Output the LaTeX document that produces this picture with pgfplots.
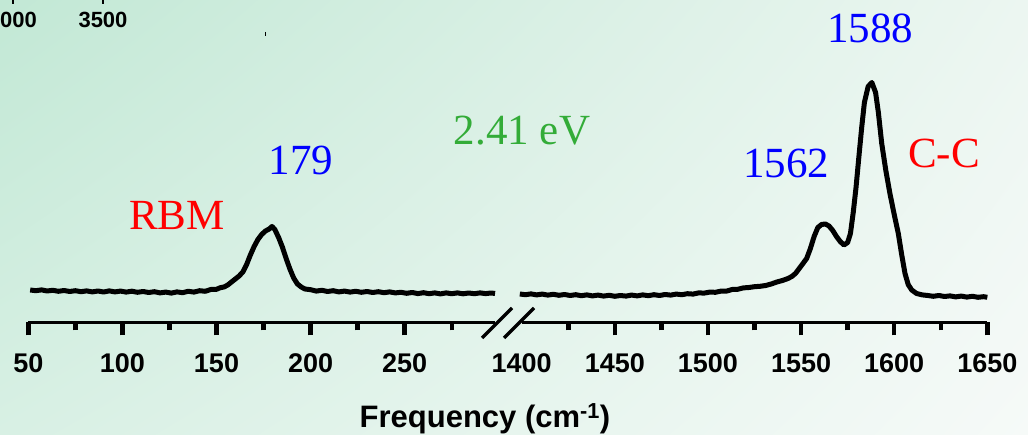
\documentclass[border=0pt]{standalone}
\usepackage{pgfplots}
\pgfplotsset{compat=1.18}
\usetikzlibrary{shadings}
\usepackage{fontspec}
\setmainfont{Liberation Serif}
\setsansfont{Liberation Sans}
\definecolor{bgUL}{RGB}{194,232,213}
\definecolor{bgUR}{RGB}{236,246,241}
\definecolor{bgLL}{RGB}{216,240,228}
\definecolor{bgLR}{RGB}{246,250,248}
\definecolor{lblue}{RGB}{0,0,255}
\definecolor{lred}{RGB}{255,0,0}
\definecolor{lgreen}{RGB}{51,172,56}
\pgfplotsset{myax/.style={
  y=1pt, ymin=0, ymax=320,
  axis x line=bottom, axis y line=none,
  x axis line style={-, line width=3.5pt},
  tick align=outside, major tick length=13pt, minor tick length=8pt,
  /pgf/number format/assume math mode=true,
  /pgf/number format/set thousands separator={},
  xticklabel style={font=\fontsize{27}{27}\selectfont\sffamily\bfseries, anchor=north, yshift=-15pt},
  anchor=south west, clip=false,
}}
\begin{document}
\begin{tikzpicture}[x=1pt,y=1pt]
\clip (0,0) rectangle (1028,435);
\shade[upper left=bgUL, upper right=bgUR, lower left=bgLL, lower right=bgLR] (0,0) rectangle (1028,435);
% stray remnants at the top
\node[anchor=base east, font=\fontsize{22}{22}\selectfont\sffamily\bfseries, inner sep=0pt] at (37,407) {4000};
\node[anchor=base, font=\fontsize{22}{22}\selectfont\sffamily\bfseries, inner sep=0pt] at (103,407) {3500};
\draw[line width=2pt] (13,435) -- (13,431);
\draw[line width=2pt] (103,435) -- (103,431);
\draw[line width=1pt] (265.7,403) -- (265.7,399);
\begin{axis}[myax, at={(28.3pt,112.5pt)}, x=1.882pt, xmin=50, xmax=298,
  xtick={50,100,150,200,250}, minor xtick={75,125,175,225,275},
  every tick/.style={black, line width=4.5pt},
  every major tick/.style={black, line width=4.5pt},
  every minor tick/.style={black, line width=4.5pt}]
\addplot[black, line width=5pt, line join=round] coordinates {
(51,32.5) (54,31.8) (57,32.6) (60,31.5) (63,32.2) (66,31.2) (69,32.0) (72,31.0) (75,31.8) (78,30.8)
(81,31.6) (84,30.6) (87,31.5) (90,30.5) (93,31.6) (96,30.6) (99,31.4) (102,30.4) (105,31.3) (108,30.2)
(111,31.0) (114,30.0) (117,30.8) (120,29.6) (123,30.4) (126,29.4) (129,30.6) (132,29.8) (135,31.2) (138,30.4)
(141,31.8) (144,31.2) (147,33.0) (150,33.2) (152,34.8) (154,35.5) (156,37.5) (158,40.5) (160,43.5) (162,46.5)
(164,50.5) (166,58) (168,67.5) (170,76) (172,83) (174,88) (176,91.5) (178,93.5) (179.5,96) (181,93)
(183,85) (185,75.5) (187,64) (189,53.5) (191,44.5) (193,38.5) (195,35.5) (197,33.5) (200,32.8) (203,31.4)
(206,32.2) (209,31.0) (212,31.8) (215,30.6) (218,31.4) (221,30.4) (224,31.2) (227,30.2) (230,31.0) (233,30.0)
(236,30.8) (239,29.8) (242,30.6) (245,29.6) (248,30.2) (251,29.2) (254,30.0) (257,28.9) (260,29.8) (263,28.8)
(266,29.6) (269,28.6) (272,29.6) (275,28.8) (278,29.6) (281,28.7) (284,29.5) (287,28.8) (290,29.6) (293,28.9)
(296,29.5) (298,29.0)
};
\end{axis}
\begin{axis}[myax, at={(521.7pt,112.5pt)}, x=1.8625pt, xmin=1400, xmax=1650,
  xtick={1450,1500,1550,1600,1650}, minor xtick={1425,1475,1525,1575,1625},
  every tick/.style={black, line width=4.5pt},
  every major tick/.style={black, line width=4.5pt},
  every minor tick/.style={black, line width=4.5pt},
  extra x ticks={1400}, extra x tick style={every major tick/.style={draw=none}, every tick/.style={draw=none}}]
\addplot[black, line width=5pt, line join=round] coordinates {
(1399,28.5) (1402,27.8) (1405,28.6) (1408,27.6) (1411,28.4) (1414,27.4) (1417,28.2) (1420,27.2) (1423,28.0) (1426,27.0)
(1429,27.8) (1432,26.8) (1435,27.6) (1438,26.6) (1441,27.4) (1444,26.4) (1447,27.2) (1450,26.2) (1453,27.0) (1456,26.4)
(1459,27.4) (1462,26.6) (1465,27.6) (1468,26.8) (1471,27.8) (1474,27.0) (1477,28.0) (1480,27.4) (1483,28.4) (1486,27.8)
(1489,28.8) (1492,28.4) (1495,29.6) (1498,29.4) (1501,30.4) (1504,30.2) (1507,31.4) (1510,31.4) (1513,33.0) (1516,33.2)
(1519,34.6) (1522,35.0) (1525,35.8) (1528,36.2) (1531,37.0) (1534,38.5) (1537,40.5) (1540,42.0) (1543,44.0) (1545,46)
(1547,49) (1549,54) (1551,59) (1553,64) (1555,74) (1557,86) (1559,95) (1561,98) (1563,98.5) (1565,96.5)
(1567,92) (1569,86) (1571,81) (1573,77.5) (1575,80) (1576.5,89) (1578,110) (1579.5,135) (1581,165) (1582.6,196)
(1584,220) (1586,236) (1588,240) (1590,230) (1591.5,210) (1593.3,179) (1595.5,152) (1597.7,129) (1600,108) (1602.2,89)
(1604,68) (1605.8,49) (1607.5,38) (1609.4,32.5) (1612,29) (1615,27.6) (1618,27.0) (1621,26.2) (1624,27.0) (1627,26.0)
(1630,26.6) (1633,25.6) (1636,26.4) (1639,25.4) (1642,26.2) (1645,25.2) (1648,25.8) (1650,25.2)
};
\end{axis}
% axis break marks
\draw[line width=3.5pt] (482,97) -- (512,127);
\draw[line width=3.5pt] (504,97) -- (534,127);
% axis title
\node[anchor=base, font=\fontsize{31}{31}\selectfont\sffamily\bfseries, inner sep=0pt] at (485,7) {Frequency (cm\textsuperscript{-1})};
% annotations
\begin{scope}[every node/.style={anchor=base, inner sep=0pt, font=\fontsize{43}{43}\selectfont}]
\node[text=lblue] at (301,260) {179};
\node[text=lred] at (177,205) {RBM};
\node[text=lgreen] at (522,290) {2.41 eV};
\node[text=lblue] at (786,257) {1562};
\node[text=lblue] at (870,392) {1588};
\node[text=lred] at (944,267) {C-C};
\end{scope}
\end{tikzpicture}
\end{document}
